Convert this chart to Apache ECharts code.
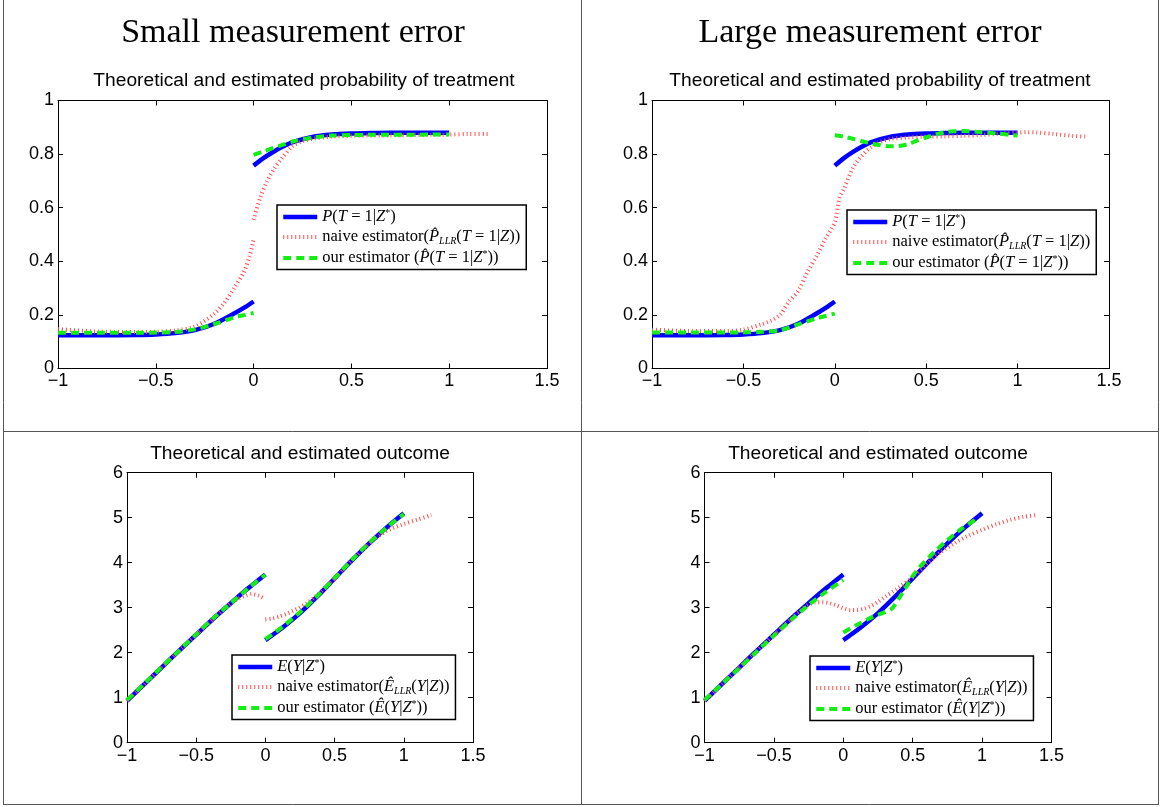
<!DOCTYPE html>
<html>
<head>
<meta charset="utf-8">
<script src="https://cdn.jsdelivr.net/npm/echarts@6/dist/echarts.min.js"></script>
<style>
  html, body { margin: 0; padding: 0; background: #fff; }
  #main { width: 1161px; height: 807px; }
</style>
</head>
<body>
<div id="main"></div>
<script>
// ---- top row: probability of treatment (x = Z, y = probability) ----
var zProbL = [-1, -0.8, -0.6, -0.5, -0.4, -0.3, -0.2, -0.1, -0.05, 0];
var zProbR = [0, 0.05, 0.1, 0.15, 0.2, 0.3, 0.4, 0.5, 0.6, 0.7, 0.8, 0.9, 1];
var probTrueL = [0.124, 0.124, 0.125, 0.127, 0.132, 0.143, 0.167, 0.205, 0.226, 0.25];
var probTrueR = [0.757, 0.785, 0.808, 0.828, 0.845, 0.864, 0.873, 0.877, 0.879, 0.88, 0.88, 0.88, 0.88];

// small measurement error
var smallOursL = [0.133, 0.133, 0.133, 0.134, 0.136, 0.146, 0.166, 0.19, 0.199, 0.207];
var smallOursR = [0.797, 0.81, 0.823, 0.835, 0.847, 0.862, 0.869, 0.871, 0.872, 0.872, 0.872, 0.873, 0.873];
var zSmallNaiveL = [-1, -0.8, -0.6, -0.5, -0.4, -0.3, -0.2, -0.15, -0.1, -0.05, -0.02, 0];
var smallNaiveL = [0.147, 0.138, 0.136, 0.137, 0.142, 0.157, 0.205, 0.245, 0.3, 0.36, 0.42, 0.48];
var zSmallNaiveR = [0, 0.035, 0.07, 0.1, 0.14, 0.2, 0.25, 0.3, 0.4, 0.5, 0.7, 0.9, 1, 1.1, 1.2];
var smallNaiveR = [0.555, 0.64, 0.7, 0.74, 0.78, 0.83, 0.848, 0.857, 0.865, 0.868, 0.87, 0.872, 0.873, 0.875, 0.875];

// large measurement error
var largeOursL = [0.134, 0.134, 0.134, 0.135, 0.137, 0.143, 0.165, 0.187, 0.196, 0.205];
var zLargeOursR = [0, 0.05, 0.1, 0.15, 0.2, 0.25, 0.3, 0.35, 0.4, 0.45, 0.5, 0.55, 0.6, 0.65, 0.7, 0.8, 0.9, 1];
var largeOursR = [0.87, 0.865, 0.857, 0.848, 0.84, 0.833, 0.829, 0.83, 0.837, 0.85, 0.862, 0.873, 0.881, 0.885, 0.886, 0.882, 0.876, 0.869];
var zLargeNaive = [-1, -0.8, -0.6, -0.5, -0.4, -0.35, -0.3, -0.25, -0.2, -0.15, -0.1, -0.05, 0, 0.025, 0.05, 0.1, 0.15, 0.2, 0.25, 0.3, 0.4, 0.5, 0.6, 0.7, 0.8, 0.9, 1, 1.05, 1.1, 1.2, 1.3, 1.38];
var largeNaive = [0.145, 0.14, 0.14, 0.145, 0.165, 0.178, 0.2, 0.25, 0.29, 0.36, 0.42, 0.485, 0.545, 0.635, 0.67, 0.75, 0.795, 0.826, 0.845, 0.856, 0.862, 0.865, 0.866, 0.868, 0.871, 0.876, 0.88, 0.882, 0.881, 0.875, 0.868, 0.865];

// ---- bottom row: outcome ----
var zOutL = [-1, -0.875, -0.75, -0.625, -0.5, -0.375, -0.25, -0.125, 0];
var zOutR = [0, 0.125, 0.25, 0.375, 0.5, 0.625, 0.75, 0.875, 1];
var outTrueL = [0.93, 1.3, 1.67, 2.04, 2.4, 2.76, 3.1, 3.43, 3.74];
var outTrueR = [2.28, 2.56, 2.88, 3.25, 3.65, 4.05, 4.43, 4.78, 5.1];

var smallOutOursL = [0.95, 1.31, 1.68, 2.04, 2.41, 2.77, 3.1, 3.43, 3.73];
var smallOutOursR = [2.3, 2.58, 2.9, 3.26, 3.66, 4.06, 4.44, 4.78, 5.08];
var zSmallOutNaiveL = [-1, -0.875, -0.75, -0.625, -0.5, -0.375, -0.25, -0.2, -0.15, -0.1, -0.05, 0];
var smallOutNaiveL = [0.93, 1.3, 1.67, 2.04, 2.4, 2.76, 3.1, 3.19, 3.26, 3.3, 3.27, 3.19];
var zSmallOutNaiveR = [0, 0.05, 0.1, 0.15, 0.2, 0.25, 0.3, 0.375, 0.5, 0.625, 0.75, 0.8, 0.85, 0.9, 1, 1.1, 1.2];
var smallOutNaiveR = [2.74, 2.76, 2.8, 2.86, 2.93, 3.01, 3.1, 3.28, 3.65, 4.05, 4.42, 4.55, 4.66, 4.74, 4.86, 4.96, 5.06];

var largeOutOursL = [0.95, 1.3, 1.66, 2.02, 2.38, 2.73, 3.06, 3.35, 3.62];
var zLargeOutOursR = [0, 0.1, 0.2, 0.3, 0.35, 0.4, 0.45, 0.5, 0.55, 0.65, 0.75, 0.85, 0.95, 0.98];
var largeOutOursR = [2.45, 2.62, 2.78, 2.9, 2.98, 3.2, 3.45, 3.7, 3.9, 4.22, 4.5, 4.75, 4.95, 5.0];
var zLargeOutNaive = [-1, -0.875, -0.75, -0.625, -0.5, -0.375, -0.3, -0.25, -0.2, -0.15, -0.1, -0.05, 0, 0.05, 0.1, 0.15, 0.2, 0.25, 0.3, 0.4, 0.5, 0.6, 0.7, 0.8, 0.9, 1, 1.1, 1.2, 1.3, 1.4];
var largeOutNaive = [0.93, 1.3, 1.67, 2.04, 2.4, 2.76, 2.96, 3.07, 3.12, 3.12, 3.1, 3.05, 2.99, 2.95, 2.95, 2.98, 3.04, 3.13, 3.24, 3.45, 3.68, 3.97, 4.23, 4.43, 4.6, 4.73, 4.85, 4.95, 5.02, 5.06];

// text
var columnTitles = ['Small measurement error', 'Large measurement error'];
var probTitle = 'Theoretical and estimated probability of treatment';
var outTitle = 'Theoretical and estimated outcome';
var legendText = {
    pTrue:  '{i|P}{r|(}{i|T}{r| = 1|}{i|Z}{sp|*}{r|)}',
    pNaive: '{r|naive estimator(}{i|P\u0302}{sb|LLR}{r|(}{i|T}{r| = 1|}{i|Z}{r|))}',
    pOurs:  '{r|our estimator (}{i|P\u0302}{r|(}{i|T}{r| = 1|}{i|Z}{sp|*}{r|))}',
    eTrue:  '{i|E}{r|(}{i|Y}{r||}{i|Z}{sp|*}{r|)}',
    eNaive: '{r|naive estimator(}{i|E\u0302}{sb|LLR}{r|(}{i|Y}{r||}{i|Z}{r|))}',
    eOurs:  '{r|our estimator (}{i|E\u0302}{r|(}{i|Y}{r||}{i|Z}{sp|*}{r|))}'
};

function pts(xs, ys){
    var out = [];
    for(var i=0; i<xs.length; i++){
        out.push([xs[i], ys[i]]);
    }
    return out;
}
function twoParts(xa, ya, xb, yb){
    return pts(xa, ya).concat([['-', '-']], pts(xb, yb));
}

var chart = echarts.init(document.getElementById('main'));

// plot boxes (left, top, width, height)
var boxes = [
    [58, 100.5, 489, 268],
    [652, 100.5, 457, 268],
    [127, 472.7, 346, 270],
    [704.5, 472.7, 347, 270]
];

var serif = 'Liberation Serif';
var sans = 'Liberation Sans';

var blueStyle  = {color: '#0000ff', width: 4.5, type: 'solid'};
var redStyle   = {color: '#ff4d4d', width: 4, type: [1, 3]};
var greenStyle = {color: '#14ee14', width: 4, type: [8, 5]};

function fmtTick(v){
    var r = Math.round(v * 100) / 100;
    if (r < 0) return '\u2212' + String(-r);
    return String(r);
}

var grids = [], xAxes = [], yAxes = [];
boxes.forEach(function(b, k){
    grids.push({left: b[0], top: b[1], width: b[2], height: b[3], containLabel: false});
    var isProb = k < 2;
    var common = {
        type: 'value', gridIndex: k,
        axisLine: {show: true, onZero: false, lineStyle: {color: '#000', width: 1}},
        axisTick: {show: true, inside: true, length: 5, lineStyle: {color: '#000'}},
        splitLine: {show: false}
    };
    var xb = echarts.util.merge({position: 'bottom', min: -1, max: 1.5, interval: 0.5,
        axisLabel: {show: true, margin: 4, color: '#000', fontFamily: sans, fontSize: 18, formatter: fmtTick}}, common, true);
    var xt = echarts.util.merge({position: 'top', min: -1, max: 1.5, interval: 0.5, axisLabel: {show: false}}, common, true);
    var yopt = isProb ? {min: 0, max: 1, interval: 0.2} : {min: 0, max: 6, interval: 1};
    var yl = echarts.util.merge(echarts.util.merge({position: 'left',
        axisLabel: {show: true, margin: 4, color: '#000', fontFamily: sans, fontSize: 18, formatter: fmtTick}}, yopt, true), common, true);
    var yr = echarts.util.merge(echarts.util.merge({position: 'right', axisLabel: {show: false}}, yopt, true), common, true);
    xAxes.push(xb, xt);
    yAxes.push(yl, yr);
});

function mkLine(name, k, data, ls){
    return {name: name, type: 'line', xAxisIndex: 2*k, yAxisIndex: 2*k, data: data,
        symbol: 'none', smooth: 0.3, silent: true,
        lineStyle: ls, itemStyle: {color: ls.color}};
}

var series = [
    mkLine('pTrue', 0, twoParts(zProbL, probTrueL, zProbR, probTrueR), blueStyle),
    mkLine('pNaive', 0, twoParts(zSmallNaiveL, smallNaiveL, zSmallNaiveR, smallNaiveR), redStyle),
    mkLine('pOurs', 0, twoParts(zProbL, smallOursL, zProbR, smallOursR), greenStyle),

    mkLine('pTrue', 1, twoParts(zProbL, probTrueL, zProbR, probTrueR), blueStyle),
    mkLine('pNaive', 1, pts(zLargeNaive, largeNaive), redStyle),
    mkLine('pOurs', 1, twoParts(zProbL, largeOursL, zLargeOursR, largeOursR), greenStyle),

    mkLine('eTrue', 2, twoParts(zOutL, outTrueL, zOutR, outTrueR), blueStyle),
    mkLine('eNaive', 2, twoParts(zSmallOutNaiveL, smallOutNaiveL, zSmallOutNaiveR, smallOutNaiveR), redStyle),
    mkLine('eOurs', 2, twoParts(zOutL, smallOutOursL, zOutR, smallOutOursR), greenStyle),

    mkLine('eTrue', 3, twoParts(zOutL, outTrueL, zOutR, outTrueR), blueStyle),
    mkLine('eNaive', 3, pts(zLargeOutNaive, largeOutNaive), redStyle),
    mkLine('eOurs', 3, twoParts(zOutL, largeOutOursL, zLargeOutOursR, largeOutOursR), greenStyle)
];

var rich = {
    r:  {fontFamily: serif, fontSize: 16.5, color: '#000', lineHeight: 18},
    i:  {fontFamily: serif, fontSize: 16.5, fontStyle: 'italic', color: '#000', lineHeight: 18},
    sp: {fontFamily: serif, fontSize: 10, color: '#000', verticalAlign: 'top', lineHeight: 18},
    sb: {fontFamily: serif, fontSize: 10, fontStyle: 'italic', color: '#000', verticalAlign: 'bottom', lineHeight: 18}
};
function legendAt(left, top, names){
    var styles = [blueStyle, redStyle, greenStyle];
    return {
        left: left, top: top, orient: 'vertical',
        data: names.map(function(n, j){
            return {name: n, lineStyle: styles[j], itemStyle: {opacity: 0}};
        }),
        selectedMode: false, itemWidth: 34, itemHeight: 12, itemGap: 3,
        padding: [3, 6, 3, 4], borderColor: '#000', borderWidth: 1.5,
        backgroundColor: '#fff',
        itemStyle: {opacity: 0},
        formatter: function(n){ return legendText[n]; },
        textStyle: {rich: rich, fontFamily: serif, fontSize: 16.5, color: '#000'}
    };
}

var titleStyle = {fontFamily: serif, fontSize: 34, fontWeight: 'normal', color: '#000'};
var subStyle = {fontFamily: sans, fontSize: 19.2, fontWeight: 'normal', color: '#000'};

var option = {
    backgroundColor: '#fff',
    animation: false,
    title: [
        {text: columnTitles[0], left: 293, top: 16, textAlign: 'center', padding: 0, textStyle: titleStyle},
        {text: columnTitles[1], left: 870, top: 16, textAlign: 'center', padding: 0, textStyle: titleStyle},
        {text: probTitle, left: 304, top: 71, textAlign: 'center', padding: 0, textStyle: subStyle},
        {text: probTitle, left: 880, top: 71, textAlign: 'center', padding: 0, textStyle: subStyle},
        {text: outTitle, left: 300, top: 444, textAlign: 'center', padding: 0, textStyle: subStyle},
        {text: outTitle, left: 878, top: 444, textAlign: 'center', padding: 0, textStyle: subStyle}
    ],
    legend: [
        legendAt(277, 205, ['pTrue', 'pNaive', 'pOurs']),
        legendAt(847, 210, ['pTrue', 'pNaive', 'pOurs']),
        legendAt(232, 655, ['eTrue', 'eNaive', 'eOurs']),
        legendAt(810, 656, ['eTrue', 'eNaive', 'eOurs'])
    ],
    grid: grids,
    xAxis: xAxes,
    yAxis: yAxes,
    series: series,
    // table frame around the four panels
    graphic: [
        {type: 'line', silent: true, shape: {x1: 3.5, y1: 0, x2: 3.5, y2: 805}, style: {stroke: '#555', lineWidth: 1}},
        {type: 'line', silent: true, shape: {x1: 1158.5, y1: 0, x2: 1158.5, y2: 805}, style: {stroke: '#555', lineWidth: 1}},
        {type: 'line', silent: true, shape: {x1: 581.5, y1: 0, x2: 581.5, y2: 805}, style: {stroke: '#555', lineWidth: 1}},
        {type: 'line', silent: true, shape: {x1: 3.5, y1: 431.5, x2: 1158.5, y2: 431.5}, style: {stroke: '#555', lineWidth: 1}},
        {type: 'line', silent: true, shape: {x1: 3.5, y1: 804.5, x2: 1158.5, y2: 804.5}, style: {stroke: '#555', lineWidth: 1}}
    ]
};

chart.setOption(option);
</script>
</body>
</html>
